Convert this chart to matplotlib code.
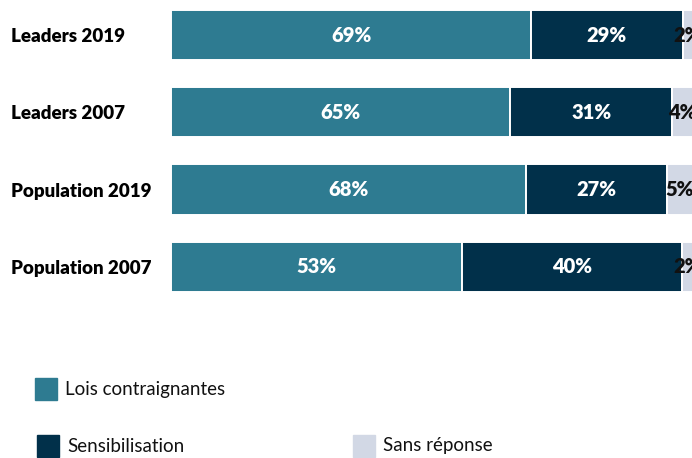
import matplotlib
matplotlib.use("Agg")
from matplotlib import pyplot as plt
from matplotlib.patches import Rectangle
import numpy as np

categories = ["Leaders 2019", "Leaders 2007", "Population 2019", "Population 2007"]
lois = [69, 65, 68, 53]
sensibilisation = [29, 31, 27, 40]
sans_reponse = [2, 4, 5, 2]

series_names = ["Lois contraignantes", "Sensibilisation", "Sans réponse"]
colors = ["#2E7B91", "#01304A", "#D2D8E5"]
text_colors = ["white", "white", "#111111"]

plt.rcParams["font.family"] = ["Lato", "DejaVu Sans"]

fig = plt.figure(figsize=(6.92, 4.58), dpi=100)
# axes spans pixel rows 0..300 and pixel cols 171..693
ax = fig.add_axes([171 / 692, 1 - 300 / 458, 522 / 692, 300 / 458])

values = np.array([lois, sensibilisation, sans_reponse], dtype=float)
shares = values / values.sum(axis=0) * 100  # bars are normalised to full width
y = np.arange(len(categories))
left = np.zeros(len(categories))
for i in range(3):
    ax.barh(y, shares[i], left=left, height=0.65, color=colors[i],
            edgecolor="white", linewidth=1.4)
    for j in range(len(categories)):
        ax.text(left[j] + shares[i][j] / 2, y[j], f"{int(values[i][j])}%",
                ha="center", va="center", color=text_colors[i],
                fontsize=14.5, fontweight="heavy")
    left += shares[i]

ax.set_xlim(0, 100)
ax.set_ylim((300 - 35) / 77.3, -35 / 77.3)
ax.set_yticks(y)
ax.set_yticklabels(categories, fontsize=13.5, fontweight="heavy", ha="left")
ax.tick_params(axis="y", length=0, pad=115)
ax.set_xticks([])
for s in ax.spines.values():
    s.set_visible(False)

# legend drawn in pixel-like figure coords
legend_items = [(0, 35, 378), (1, 37, 435), (2, 353, 435)]
for idx, x0, y0 in legend_items:
    fig.patches.append(Rectangle((x0 / 692, 1 - (y0 + 22) / 458), 22 / 692, 22 / 458,
                                 transform=fig.transFigure, color=colors[idx]))
    fig.text((x0 + 30) / 692, 1 - (y0 + 11) / 458, series_names[idx],
             ha="left", va="center", fontsize=13.5, color="#111111")

fig.savefig("out.png", dpi=100)
